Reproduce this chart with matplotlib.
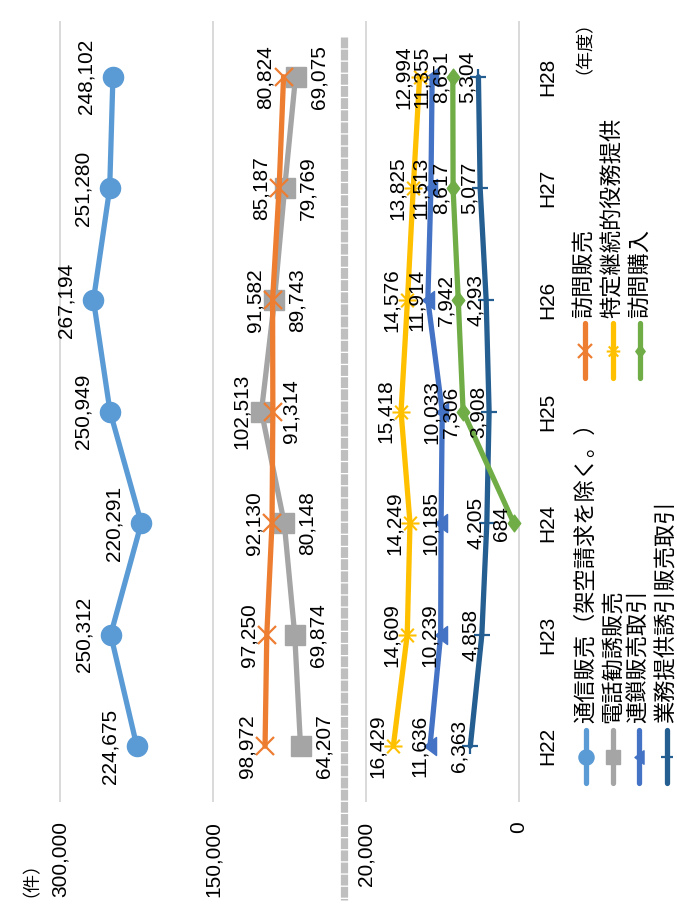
import numpy as np
import matplotlib
matplotlib.use("Agg")
import matplotlib.pyplot as plt
from matplotlib.lines import Line2D
from matplotlib.path import Path

plt.rcParams['font.family'] = ['Liberation Sans', 'Noto Sans CJK JP']

# ---------------- data ----------------
years = ['H22', 'H23', 'H24', 'H25', 'H26', 'H27', 'H28']
tsushin = [224675, 250312, 220291, 250949, 267194, 251280, 248102]      # 通信販売（架空請求を除く。）
houmon = [98972, 97250, 92130, 91314, 91582, 85187, 80824]             # 訪問販売
denwa = [64207, 69874, 80148, 102513, 89743, 79769, 69075]             # 電話勧誘販売
tokutei = [16429, 14609, 14249, 15418, 14576, 13825, 12994]            # 特定継続的役務提供
rensa = [11636, 10239, 10185, 10033, 11914, 11513, 11355]              # 連鎖販売取引
kounyu = [np.nan, np.nan, 684, 7306, 7942, 8617, 8651]                  # 訪問購入
gyomu = [6363, 4858, 4205, 3908, 4293, 5077, 5304]                      # 業務提供誘引販売取引

upper_ticks = [300000, 150000]
lower_ticks = [20000, 0]

# ---------------- layout helpers ----------------
W, H = 677, 913
fig = plt.figure(figsize=(W / 100, H / 100), dpi=100)


def fx(px):
    return px / W


def fy(py):
    return 1 - py / H


top_px, bot_px = 21, 802
# upper panel
uL, uR = 30, 344
ppu = (213 - 60) / 150000
ax_u = fig.add_axes([fx(uL), fy(bot_px), (uR - uL) / W, (bot_px - top_px) / H])
ax_u.set_xlim(300000 + (60 - uL) / ppu, 300000 - (uR - 60) / ppu)
# lower panel
lL, lR = 344, 530
ppl = (519 - 366) / 20000
ax_l = fig.add_axes([fx(lL), fy(bot_px), (lR - lL) / W, (bot_px - top_px) / H])
ax_l.set_xlim(20000 + (366 - lL) / ppl, -(lR - 519) / ppl)

idx = np.arange(len(years))
for ax in (ax_u, ax_l):
    ax.set_ylim(-0.5, len(years) - 0.5)
    for s in ax.spines.values():
        s.set_visible(False)
    ax.patch.set_alpha(0)
    ax.grid(axis='x', color='#D9D9D9', lw=1.4)
    ax.set_axisbelow(True)
    ax.tick_params(axis='x', length=0, pad=14, labelrotation=90, labelsize=15)

ax_u.set_xticks(upper_ticks)
ax_u.set_xticklabels([f"{t:,}" for t in upper_ticks])
ax_u.set_yticks([])
ax_l.set_xticks(lower_ticks)
ax_l.set_xticklabels([f"{t:,}" for t in lower_ticks])
ax_l.yaxis.tick_right()
ax_l.set_yticks(idx)
ax_l.set_yticklabels(years)
ax_l.tick_params(axis='y', length=0, pad=6, labelrotation=90, labelsize=15)
for lbl in ax_l.get_yticklabels():
    lbl.set_va('center')

# ---------------- markers ----------------
M, L, C = Path.MOVETO, Path.LINETO, Path.CLOSEPOLY
tri_left = Path([(-0.67, 0), (0.67, 1), (0.67, -1), (-0.67, 0)], [M, L, L, C])
diamond = Path([(0, 1), (0.75, 0), (0, -1), (-0.75, 0), (0, 1)], [M, L, L, L, C])
aster = Path([(-1, 0), (1, 0), (-0.7, -0.75), (0.7, 0.75), (-0.7, 0.75), (0.7, -0.75)],
             [M, L, M, L, M, L])

LW = 3.8
series = [
    # (axis, values, color, marker kwargs, label dx list, legend label)
    (ax_u, tsushin, '#5B9BD5', dict(marker='o', ms=14.5), [-27] * 7, '通信販売（架空請求を除く。）'),
    (ax_u, denwa, '#A5A5A5', dict(marker='s', ms=14), [23, 23, 23, -20, 23, 23, 23], '電話勧誘販売'),
    (ax_l, rensa, '#4472C4', dict(marker=tri_left, ms=13), [-11] * 7, '連鎖販売取引'),
    (ax_l, gyomu, '#255E91', dict(marker='+', ms=11, mew=1.6), [-11] * 7, '業務提供誘引販売取引'),
    (ax_u, houmon, '#ED7D31', dict(marker='x', ms=13, mew=1.6), [-18, -18, -18, 18, -18, -18, -18], '訪問販売'),
    (ax_l, tokutei, '#FFC000', dict(marker=aster, ms=13, mew=1.5, mfc='none'), [-16] * 7, '特定継続的役務提供'),
    (ax_l, kounyu, '#70AD47', dict(marker=diamond, ms=12), [-12] * 7, '訪問購入'),
]

for ax, vals, col, mk, dxs, name in series:
    v = np.array(vals, dtype=float)
    ax.plot(v, idx, color=col, lw=LW, mec=col, **({'mfc': col} | mk), zorder=3,
            solid_capstyle='round')
    for i, val in enumerate(v):
        if np.isnan(val):
            continue
        ax.annotate(f"{int(val):,}", xy=(val, i), xytext=(dxs[i], 0), textcoords='offset pixels',
                    rotation=90, ha='center', va='center', fontsize=15, zorder=10,
                    annotation_clip=False)

# ---------------- break line ----------------
fig.add_artist(Line2D([fx(344), fx(344)], [fy(37), fy(900)], transform=fig.transFigure,
                      color='#BFBFBF', lw=5.2, linestyle=(0, (1.5, 0.18)), zorder=20))

# ---------------- unit labels ----------------
fig.text(fx(22), fy(897), '（件）', rotation=90, ha='center', va='bottom', fontsize=13)
fig.text(fx(575), fy(2), '（年度）', rotation=90, ha='center', va='top', fontsize=13)

# ---------------- legend ----------------
leg_left = [(586, 0), (613, 1), (639, 2), (667, 3)]
leg_right = [(585, 4), (613, 5), (640, 6)]


def legend_entry(xc, y0, y1, ym, ytext, s):
    _, _, col, mk, _, name = s
    mk2 = dict(mk)
    mk2['ms'] = mk['ms'] * 0.75
    fig.add_artist(Line2D([fx(xc), fx(xc)], [fy(y0), fy(y1)], transform=fig.transFigure,
                          color=col, lw=LW, solid_capstyle='round'))
    fig.add_artist(Line2D([fx(xc)], [fy(ym)], transform=fig.transFigure, lw=0,
                          color=col, mec=col, **({'mfc': col} | mk2)))
    fig.text(fx(xc), fy(ytext), name, rotation=90, ha='center', va='bottom', fontsize=16)


for xc, k in leg_left:
    legend_entry(xc, 730, 783, 757, 723, series[k])
for xc, k in leg_right:
    legend_entry(xc, 323, 378, 351, 318, series[k])

fig.savefig('out.png', dpi=100)
